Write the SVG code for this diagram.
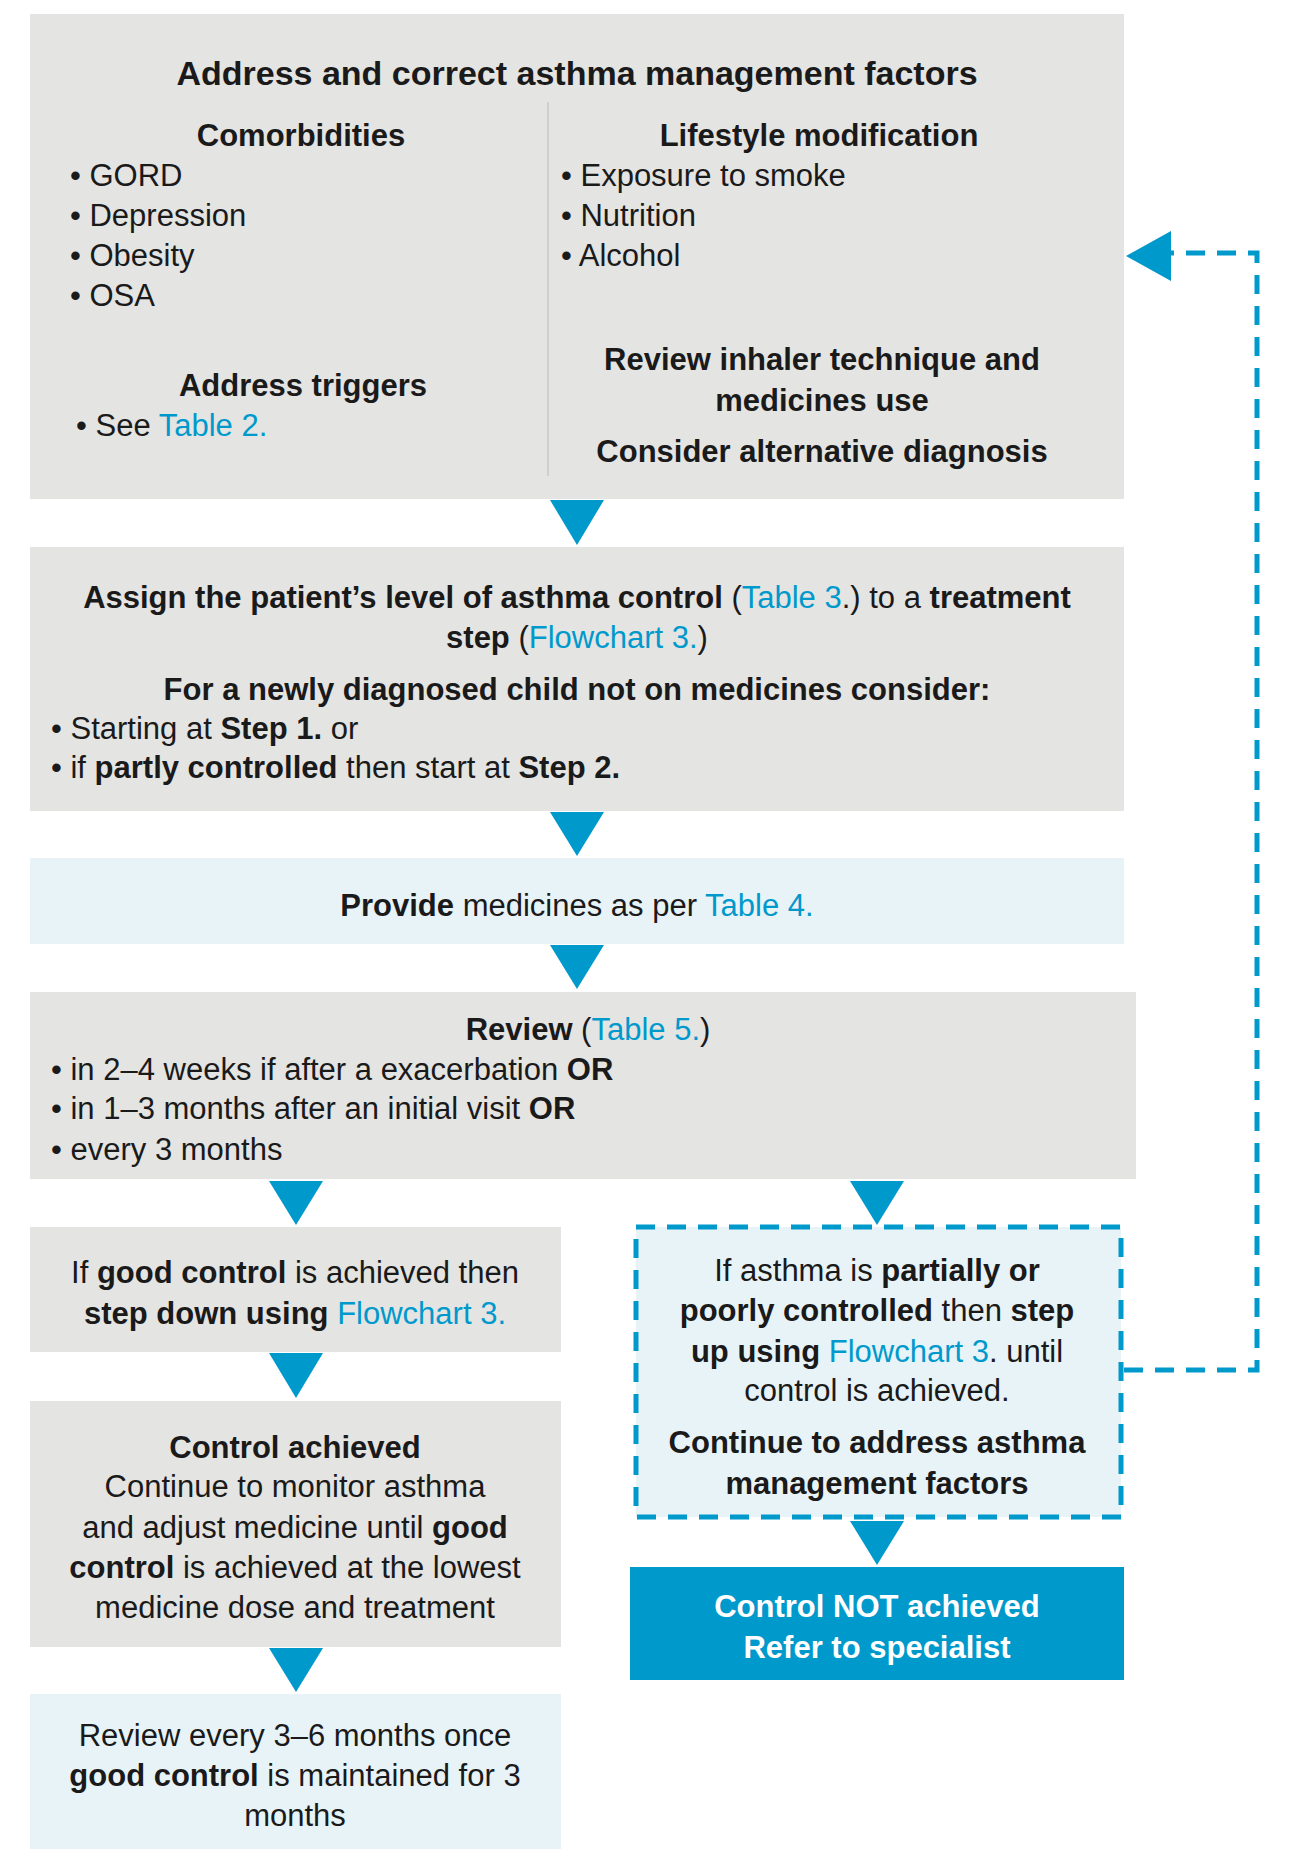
<svg xmlns="http://www.w3.org/2000/svg" width="1308" height="1858" viewBox="0 0 1308 1858">
<style>
text{font-family:"Liberation Sans",Arial,sans-serif;font-size:31px;fill:#1a1a1a}
.c{text-anchor:middle}
.b{font-weight:bold}
.l{fill:#0099cc}
.w{fill:#fff;font-weight:bold}
.g{fill:#e4e4e3}
.lb{fill:#e8f3f8}
.tri{fill:#0099cc}
</style>
<rect width="1308" height="1858" fill="#fff"/>
<g id="connectors">
<polygon class="tri" points="550,500 604,500 577,545"/>
<polygon class="tri" points="550,812 604,812 577,856"/>
<polygon class="tri" points="550,945 604,945 577,989"/>
<polygon class="tri" points="269,1181 323,1181 296,1225"/>
<polygon class="tri" points="850,1181 904,1181 877,1225"/>
<polygon class="tri" points="269,1353 323,1353 296,1398"/>
<polygon class="tri" points="269,1648 323,1648 296,1692"/>
<polygon class="tri" points="850,1521 904,1521 877,1565"/>
<polyline points="1124,1370 1257,1370 1257,253 1171,253" fill="none" stroke="#0099cc" stroke-width="5" stroke-dasharray="19 12"/>
<polygon class="tri" points="1126,256 1171,231 1171,281"/>
</g>
<g id="n1">
<rect class="g" x="30" y="14" width="1094" height="485"/>
<line x1="548" y1="102" x2="548" y2="476" stroke="#c8c8c8" stroke-width="1.5"/>
<text class="c b" x="577" y="85" style="font-size:34px">Address and correct asthma management factors</text>
<text class="c b" x="301" y="146">Comorbidities</text>
<text x="70" y="186">• GORD</text>
<text x="70" y="226">• Depression</text>
<text x="70" y="266">• Obesity</text>
<text x="70" y="306">• OSA</text>
<text class="c b" x="303" y="396">Address triggers</text>
<text x="76" y="436">• See <tspan class="l">Table 2.</tspan></text>
<text class="c b" x="819" y="146">Lifestyle modification</text>
<text x="561" y="186">• Exposure to smoke</text>
<text x="561" y="226">• Nutrition</text>
<text x="561" y="266">• Alcohol</text>
<text class="c b" x="822" y="370">Review inhaler technique and</text>
<text class="c b" x="822" y="411">medicines use</text>
<text class="c b" x="822" y="462">Consider alternative diagnosis</text>
</g>
<g id="n2">
<rect class="g" x="30" y="547" width="1094" height="264"/>
<text class="c" x="577" y="608"><tspan class="b">Assign the patient’s level of asthma control</tspan> (<tspan class="l">Table 3</tspan>.) to a <tspan class="b">treatment</tspan></text>
<text class="c" x="577" y="648"><tspan class="b">step</tspan> (<tspan class="l">Flowchart 3.</tspan>)</text>
<text class="c b" x="577" y="700">For a newly diagnosed child not on medicines consider:</text>
<text x="51" y="739">• Starting at <tspan class="b">Step 1.</tspan> or</text>
<text x="51" y="778">• if <tspan class="b">partly controlled</tspan> then start at <tspan class="b">Step 2.</tspan></text>
</g>
<g id="n3">
<rect class="lb" x="30" y="858" width="1094" height="86"/>
<text class="c" x="577" y="916"><tspan class="b">Provide</tspan> medicines as per <tspan class="l">Table 4.</tspan></text>
</g>
<g id="n4">
<rect class="g" x="30" y="992" width="1106" height="187"/>
<text class="c" x="588" y="1040"><tspan class="b">Review</tspan> (<tspan class="l">Table 5.</tspan>)</text>
<text x="51" y="1080">• in 2–4 weeks if after a exacerbation <tspan class="b">OR</tspan></text>
<text x="51" y="1119">• in 1–3 months after an initial visit <tspan class="b">OR</tspan></text>
<text x="51" y="1160">• every 3 months</text>
</g>
<g id="n5">
<rect class="g" x="30" y="1227" width="531" height="125"/>
<text class="c" x="295" y="1283">If <tspan class="b">good control</tspan> is achieved then</text>
<text class="c" x="295" y="1324"><tspan class="b">step down using</tspan> <tspan class="l">Flowchart 3.</tspan></text>
</g>
<g id="n6">
<rect class="g" x="30" y="1401" width="531" height="246"/>
<text class="c b" x="295" y="1458">Control achieved</text>
<text class="c" x="295" y="1497">Continue to monitor asthma</text>
<text class="c" x="295" y="1538">and adjust medicine until <tspan class="b">good</tspan></text>
<text class="c" x="295" y="1578"><tspan class="b">control</tspan> is achieved at the lowest</text>
<text class="c" x="295" y="1618">medicine dose and treatment</text>
</g>
<g id="n7">
<rect class="lb" x="30" y="1694" width="531" height="155"/>
<text class="c" x="295" y="1746">Review every 3–6 months once</text>
<text class="c" x="295" y="1786"><tspan class="b">good control</tspan> is maintained for 3</text>
<text class="c" x="295" y="1826">months</text>
</g>
<g id="n8">
<rect class="lb" x="636" y="1227" width="485" height="290" stroke="#0099cc" stroke-width="5" stroke-dasharray="19 12"/>
<text class="c" x="877" y="1281">If asthma is <tspan class="b">partially or</tspan></text>
<text class="c" x="877" y="1321"><tspan class="b">poorly controlled</tspan> then <tspan class="b">step</tspan></text>
<text class="c" x="877" y="1362"><tspan class="b">up using</tspan> <tspan class="l">Flowchart 3</tspan>. until</text>
<text class="c" x="877" y="1401">control is achieved.</text>
<text class="c b" x="877" y="1453">Continue to address asthma</text>
<text class="c b" x="877" y="1494">management factors</text>
</g>
<g id="n9">
<rect x="630" y="1567" width="494" height="113" fill="#0099cc"/>
<text class="c w" x="877" y="1617">Control NOT achieved</text>
<text class="c w" x="877" y="1658">Refer to specialist</text>
</g>
</svg>
